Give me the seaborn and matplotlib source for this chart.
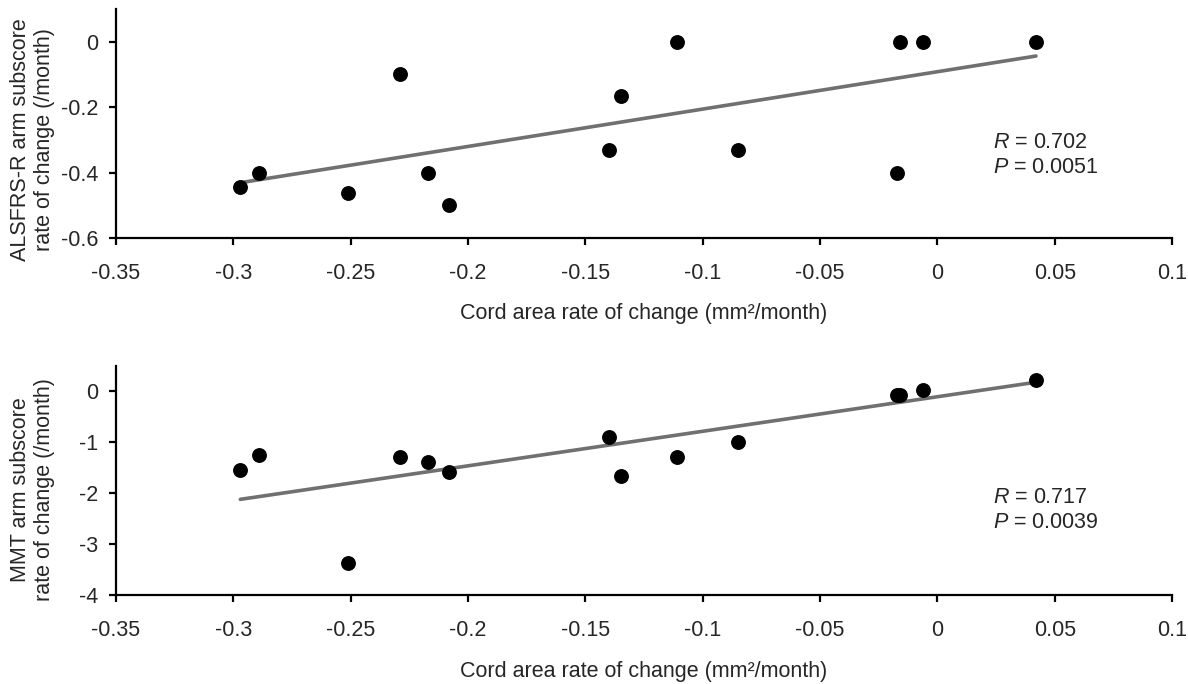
"""Cord area rate of change vs arm subscore rate of change."""

import matplotlib
matplotlib.use("Agg")
import matplotlib.pyplot as plt
import pandas as pd
import seaborn as sns

# values
cord_rate = [-0.297, -0.289, -0.251, -0.229, -0.217, -0.208, -0.140,
             -0.135, -0.111, -0.085, -0.016, -0.017, -0.006, 0.042]
alsfrs_rate = [-0.445, -0.40, -0.462, -0.10, -0.40, -0.50, -0.331,
               -0.166, 0.0, -0.331, 0.0, -0.40, 0.0, 0.0]
mmt_rate = [-1.55, -1.25, -3.37, -1.29, -1.385, -1.59, -0.90,
            -1.667, -1.29, -1.00, -0.065, -0.065, 0.02, 0.216]

# trend lines as drawn in the figure (ends at the data range)
fit_x = [-0.297, 0.042]
alsfrs_fit = [-0.431, -0.044]
mmt_fit = [-2.12, 0.18]

x_ticks = [-0.35, -0.3, -0.25, -0.2, -0.15, -0.1, -0.05, 0, 0.05, 0.1]
x_ticklabels = ["-0.35", "-0.3", "-0.25", "-0.2", "-0.15", "-0.1", "-0.05", "0", "0.05", "0.1"]
top_yticks = [0, -0.2, -0.4, -0.6]
top_yticklabels = ["0", "-0.2", "-0.4", "-0.6"]
bot_yticks = [0, -1, -2, -3, -4]
bot_yticklabels = ["0", "-1", "-2", "-3", "-4"]

x_label = "Cord area rate of change (mm\u00b2/month)"
top_ylabel = "ALSFRS-R arm subscore\nrate of change (/month)"
bot_ylabel = "MMT arm subscore\nrate of change (/month)"
top_stats = ["$\\it{R}$ = 0.702", "$\\it{P}$ = 0.0051"]
bot_stats = ["$\\it{R}$ = 0.717", "$\\it{P}$ = 0.0039"]

df = pd.DataFrame({"cord": cord_rate, "alsfrs": alsfrs_rate, "mmt": mmt_rate})
fit_df = pd.DataFrame({"cord": fit_x, "alsfrs": alsfrs_fit, "mmt": mmt_fit})

sns.set_style("ticks")
plt.rcParams["font.family"] = ["Liberation Sans", "DejaVu Sans"]
plt.rcParams["mathtext.fontset"] = "custom"
plt.rcParams["mathtext.rm"] = "Liberation Sans"
plt.rcParams["mathtext.it"] = "Liberation Sans:italic"

FS = 15.5

fig = plt.figure(figsize=(11.88, 6.84), dpi=100)
ax_top = fig.add_axes([0.0976, 0.652, 0.889, 0.335])
ax_bot = fig.add_axes([0.0976, 0.130, 0.889, 0.335])

panels = [
    (ax_top, "alsfrs", top_ylabel, 0.43, (-0.6, 0.1), top_yticks, top_yticklabels, top_stats, (-0.307, -0.386)),
    (ax_bot, "mmt", bot_ylabel, 0.46, (-4, 0.5), bot_yticks, bot_yticklabels, bot_stats, (-2.08, -2.57)),
]

for ax, col, ylabel, label_y, ylim, yticks, yticklabels, stats, stat_y in panels:
    sns.lineplot(data=fit_df, x="cord", y=col, ax=ax, color="#707070", linewidth=2.6, zorder=2)
    sns.scatterplot(data=df, x="cord", y=col, ax=ax, color="black", s=115,
                    linewidth=0, zorder=3)
    ax.set_xlim(-0.35, 0.1)
    ax.set_ylim(*ylim)
    ax.set_xticks(x_ticks)
    ax.set_xticklabels(x_ticklabels)
    ax.set_yticks(yticks)
    ax.set_yticklabels(yticklabels)
    ax.set_xlabel(x_label, fontsize=FS, labelpad=14)
    ax.set_ylabel(ylabel, fontsize=FS, linespacing=1.2, va="center")
    ax.yaxis.set_label_coords(-0.079, label_y)
    ax.tick_params(axis="both", labelsize=FS, length=5, width=1.6, color="black")
    ax.tick_params(axis="x", pad=13)
    ax.tick_params(axis="y", pad=8)
    sns.despine(ax=ax)
    for side in ["left", "bottom"]:
        ax.spines[side].set_linewidth(1.6)
        ax.spines[side].set_color("black")
    ax.text(0.0238, stat_y[0], stats[0], fontsize=FS, va="center", ha="left")
    ax.text(0.0238, stat_y[1], stats[1], fontsize=FS, va="center", ha="left")

fig.savefig("out.png", dpi=100)
